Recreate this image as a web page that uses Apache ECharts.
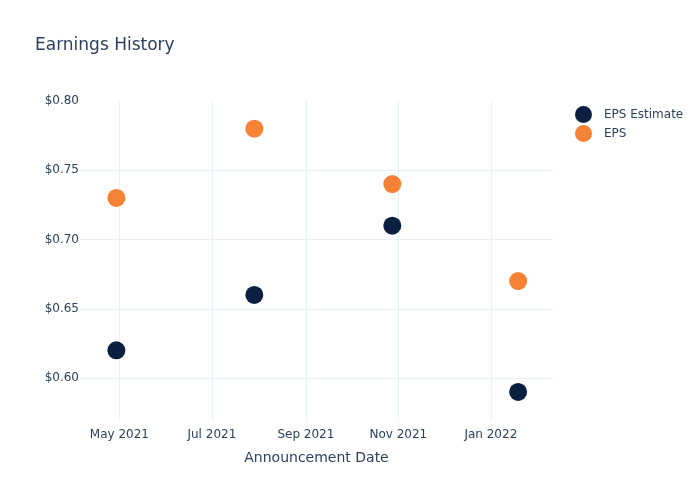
<!DOCTYPE html>
<html>
<head>
<meta charset="utf-8">
<script src="https://cdn.jsdelivr.net/npm/echarts@6/dist/echarts.min.js"></script>
<style>html,body{margin:0;padding:0;background:#fff}#c{width:700px;height:500px}</style>
</head>
<body>
<div id="c"></div>
<script>
const dates = ['2021-04-29', '2021-07-29', '2021-10-28', '2022-01-19'];
const epsEstimate = [0.62, 0.66, 0.71, 0.59];
const eps = [0.73, 0.78, 0.74, 0.67];
const seriesNames = ['EPS Estimate', 'EPS'];

const textColor = '#2a3f5f';
const gridColor = '#ebf0f8';
const font = '"DejaVu Sans", Verdana, sans-serif';

const chart = echarts.init(document.getElementById('c'), null, {renderer: 'canvas'});
chart.setOption({
  animation: false,
  backgroundColor: '#fff',
  title: {
    text: 'Earnings History',
    left: 30, top: 32,
    textStyle: {fontFamily: font, fontSize: 17, fontWeight: 'normal', color: textColor}
  },
  legend: {
    orient: 'vertical',
    left: 570, top: 101,
    itemWidth: 17, itemHeight: 17, itemGap: 2,
    icon: 'circle',
    textStyle: {fontFamily: font, fontSize: 12, color: textColor, padding: [0, 0, 0, 7]},
    data: seriesNames
  },
  grid: {left: 80, right: 147, top: 101, bottom: 79},
  xAxis: {
    type: 'time',
    min: '2021-04-05', max: '2022-02-11',
    splitNumber: 4,
    name: 'Announcement Date',
    nameLocation: 'middle', nameGap: 30,
    nameTextStyle: {fontFamily: font, fontSize: 14, color: textColor},
    axisLine: {show: false},
    axisTick: {show: false},
    splitLine: {show: true, showMinLine: false, showMaxLine: false, lineStyle: {color: gridColor, width: 1}},
    axisLabel: {
      fontFamily: font, fontSize: 12, color: textColor, margin: 8,
      showMinLabel: false, showMaxLabel: false,
      formatter: function (v) { return echarts.time.format(v, '{MMM} {yyyy}', false); }
    }
  },
  yAxis: {
    type: 'value',
    min: 0.569, max: 0.80,
    axisLine: {show: false},
    axisTick: {show: false},
    splitLine: {show: true, showMinLine: false, showMaxLine: false, lineStyle: {color: gridColor, width: 1}},
    axisLabel: {
      fontFamily: font, fontSize: 12, color: textColor, margin: 1,
      formatter: function (v) {
        const r = Math.round(v * 100) / 100;
        if (Math.abs(r * 20 - Math.round(r * 20)) > 1e-6 || Math.abs(v - r) > 1e-6) return '';
        return '$' + r.toFixed(2);
      }
    }
  },
  series: [
    {
      name: seriesNames[0], type: 'scatter', symbolSize: 18,
      itemStyle: {color: '#0b1f41', opacity: 1},
      data: dates.map((d, i) => [d, epsEstimate[i]])
    },
    {
      name: seriesNames[1], type: 'scatter', symbolSize: 18,
      itemStyle: {color: '#f58235', opacity: 1},
      data: dates.map((d, i) => [d, eps[i]])
    }
  ]
});
</script>
</body>
</html>
